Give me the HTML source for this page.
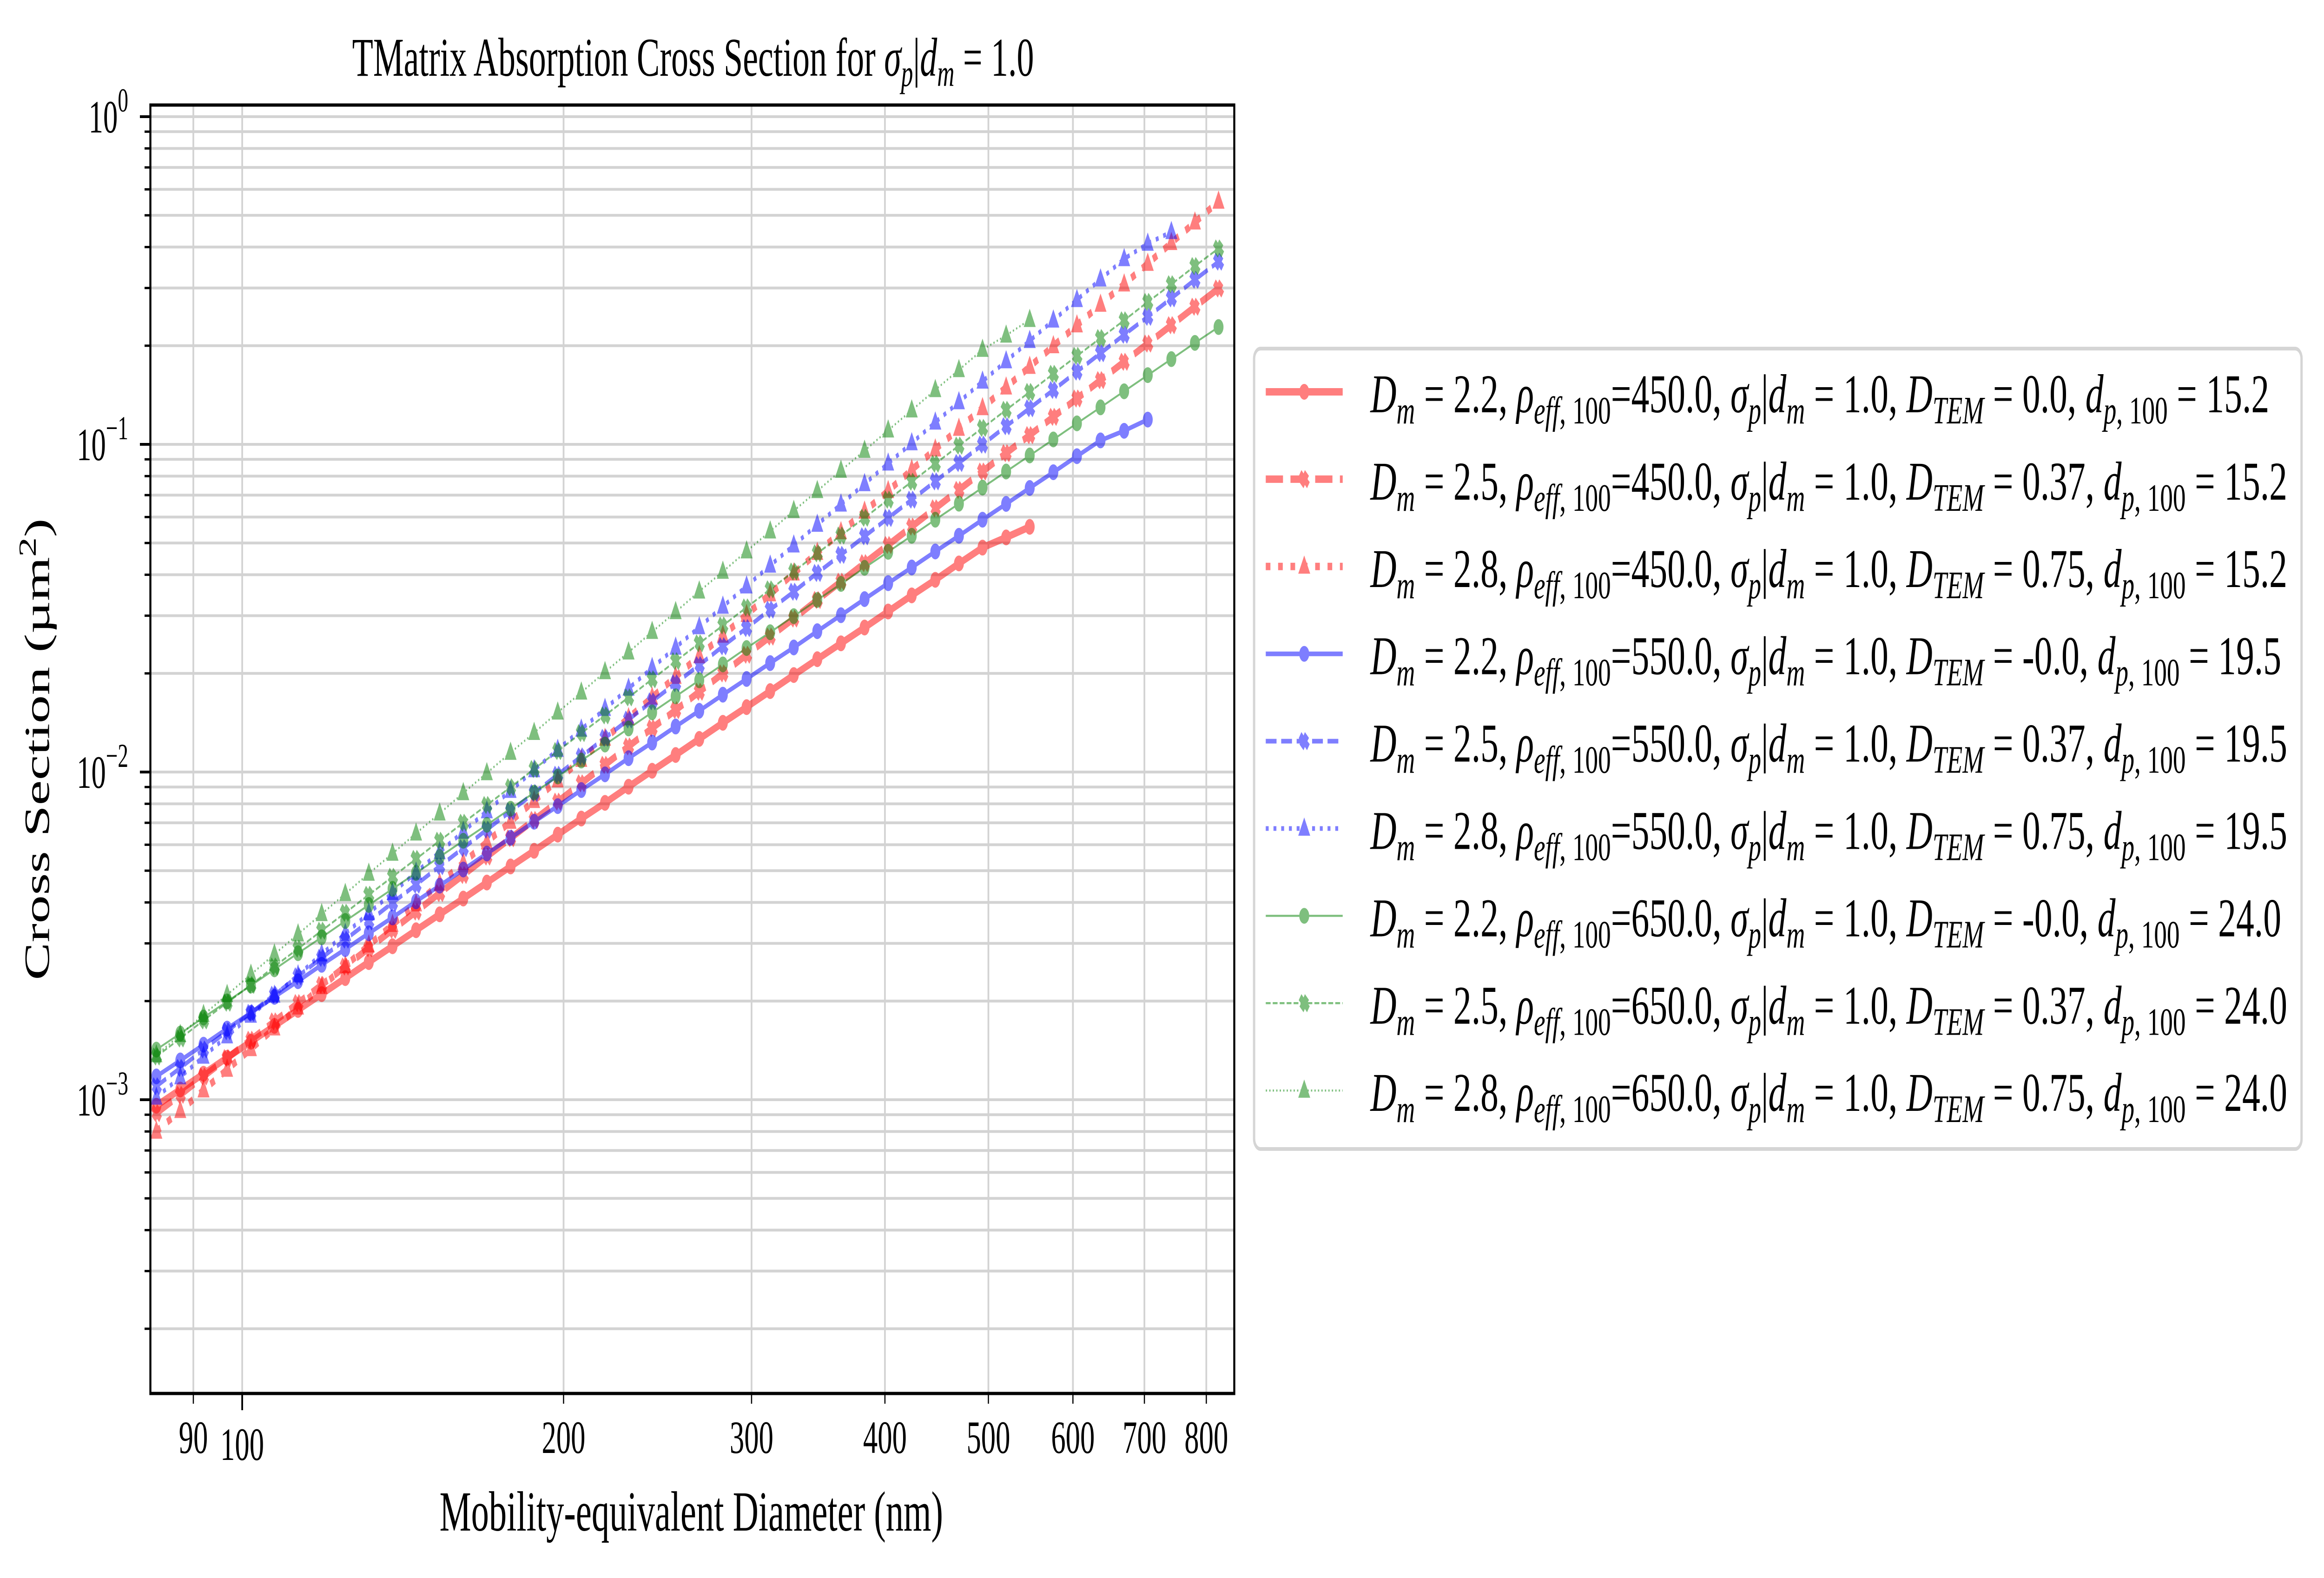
<!DOCTYPE html>
<html><head><meta charset="utf-8"><style>
html,body{margin:0;padding:0;background:#fff;width:100%;height:100%;overflow:hidden;}
svg{display:block;font-family:"Liberation Serif","DejaVu Serif",serif;width:100vw;height:100vh;}
</style></head>
<body>
<svg id="chart" viewBox="0 0 7974 3395" preserveAspectRatio="none" xmlns="http://www.w3.org/2000/svg">
  <rect x="0" y="0" width="7974" height="3395" fill="#fff"/>
  <g id="grid"></g>
  <g id="series"></g>
  <rect x="516" y="226" width="3719" height="2772" fill="none" stroke="#000" stroke-width="7"/>
  <g id="ticks"></g>
  <text x="2378" y="163" font-size="118" text-anchor="middle">TMatrix Absorption Cross Section for <tspan font-style="italic">σ</tspan><tspan font-style="italic" font-size="82" dy="22">p</tspan><tspan dy="-22">|</tspan><tspan font-style="italic">d</tspan><tspan font-style="italic" font-size="82" dy="22">m</tspan><tspan dy="-22"> = 1.0</tspan></text>
  <text x="2372" y="3293" font-size="122" text-anchor="middle">Mobility-equivalent Diameter (nm)</text>
  <text transform="translate(168,1612) rotate(-90)" x="0" y="0" font-size="122" text-anchor="middle">Cross Section (µm<tspan font-size="85" dy="-45">2</tspan><tspan dy="45">)</tspan></text>
  <g id="legend">
    <rect x="4303" y="750" width="3594" height="1722" rx="22" fill="#fff" stroke="#d5d5d5" stroke-width="8"/>
  </g>
</svg>
<script>
const diameters = [83.1,87.5,92.0,96.8,101.9,107.2,112.8,118.7,124.9,131.4,138.3,145.5,153.1,161.1,169.5,178.4,187.7,197.5,207.8,218.7,230.1,242.1,254.7,268.0,282.0,296.8,312.3,328.6,345.7,363.8,382.8,402.8,423.8,445.9,469.2,493.7,519.5,546.6,575.2,605.2,636.8,670.1,705.1,741.9,780.6,821.4];
const csRedSolid = [9.59e-4,1.074e-3,1.200e-3,1.343e-3,1.503e-3,1.680e-3,1.879e-3,2.10e-3,2.35e-3,2.63e-3,2.94e-3,3.29e-3,3.68e-3,4.11e-3,4.60e-3,5.15e-3,5.75e-3,6.44e-3,7.21e-3,8.05e-3,9.02e-3,1.009e-2,1.127e-2,1.262e-2,1.413e-2,1.578e-2,1.766e-2,1.977e-2,2.21e-2,2.47e-2,2.76e-2,3.09e-2,3.46e-2,3.86e-2,4.33e-2,4.84e-2,5.2e-2,5.6e-2];
const csRedDashed = [9.10e-4,1.035e-3,1.178e-3,1.340e-3,1.524e-3,1.734e-3,1.972e-3,2.24e-3,2.55e-3,2.90e-3,3.30e-3,3.75e-3,4.27e-3,4.85e-3,5.52e-3,6.28e-3,7.14e-3,8.12e-3,9.24e-3,1.052e-2,1.197e-2,1.361e-2,1.545e-2,1.758e-2,2.00e-2,2.28e-2,2.59e-2,2.94e-2,3.35e-2,3.81e-2,4.34e-2,4.93e-2,5.61e-2,6.38e-2,7.26e-2,8.26e-2,9.40e-2,1.067e-1,1.213e-1,1.380e-1,1.570e-1,1.786e-1,2.03e-1,2.31e-1,2.63e-1,2.99e-1];
const csRedDotted = [8.00e-4,9.25e-4,1.069e-3,1.236e-3,1.429e-3,1.652e-3,1.914e-3,2.21e-3,2.56e-3,2.96e-3,3.42e-3,3.95e-3,4.57e-3,5.28e-3,6.11e-3,7.06e-3,8.17e-3,9.44e-3,1.091e-2,1.265e-2,1.462e-2,1.690e-2,1.954e-2,2.26e-2,2.61e-2,3.02e-2,3.49e-2,4.04e-2,4.67e-2,5.40e-2,6.24e-2,7.21e-2,8.36e-2,9.66e-2,1.117e-1,1.291e-1,1.493e-1,1.726e-1,1.995e-1,2.31e-1,2.67e-1,3.08e-1,3.56e-1,4.12e-1,4.76e-1,5.51e-1];
const csBlueSolid = [1.178e-3,1.318e-3,1.472e-3,1.648e-3,1.841e-3,2.06e-3,2.30e-3,2.58e-3,2.88e-3,3.22e-3,3.60e-3,4.03e-3,4.50e-3,5.04e-3,5.64e-3,6.30e-3,7.05e-3,7.87e-3,8.81e-3,9.84e-3,1.102e-2,1.230e-2,1.377e-2,1.538e-2,1.722e-2,1.923e-2,2.15e-2,2.40e-2,2.69e-2,3.01e-2,3.37e-2,3.77e-2,4.21e-2,4.71e-2,5.26e-2,5.89e-2,6.58e-2,7.36e-2,8.22e-2,9.20e-2,1.028e-1,1.10e-1,1.19e-1];
const csBlueDashed = [1.099e-3,1.250e-3,1.423e-3,1.619e-3,1.841e-3,2.09e-3,2.38e-3,2.71e-3,3.08e-3,3.50e-3,3.99e-3,4.53e-3,5.16e-3,5.86e-3,6.67e-3,7.59e-3,8.63e-3,9.81e-3,1.116e-2,1.271e-2,1.446e-2,1.644e-2,1.866e-2,2.12e-2,2.42e-2,2.75e-2,3.13e-2,3.55e-2,4.05e-2,4.60e-2,5.24e-2,5.96e-2,6.78e-2,7.71e-2,8.77e-2,9.98e-2,1.136e-1,1.289e-1,1.465e-1,1.667e-1,1.897e-1,2.16e-1,2.45e-1,2.79e-1,3.18e-1,3.61e-1];
const csBlueDotted = [1.016e-3,1.172e-3,1.355e-3,1.563e-3,1.807e-3,2.08e-3,2.40e-3,2.78e-3,3.21e-3,3.71e-3,4.28e-3,4.94e-3,5.70e-3,6.58e-3,7.60e-3,8.77e-3,1.014e-2,1.170e-2,1.349e-2,1.560e-2,1.799e-2,2.08e-2,2.40e-2,2.77e-2,3.20e-2,3.69e-2,4.27e-2,4.92e-2,5.69e-2,6.56e-2,7.57e-2,8.75e-2,1.009e-1,1.167e-1,1.346e-1,1.556e-1,1.795e-1,2.07e-1,2.39e-1,2.76e-1,3.19e-1,3.68e-1,4.10e-1,4.45e-1];
const csGreenSolid = [1.422e-3,1.592e-3,1.782e-3,1.995e-3,2.23e-3,2.50e-3,2.80e-3,3.13e-3,3.51e-3,3.93e-3,4.40e-3,4.92e-3,5.51e-3,6.17e-3,6.90e-3,7.73e-3,8.65e-3,9.69e-3,1.084e-2,1.213e-2,1.358e-2,1.521e-2,1.702e-2,1.905e-2,2.13e-2,2.39e-2,2.67e-2,2.99e-2,3.35e-2,3.75e-2,4.20e-2,4.70e-2,5.26e-2,5.89e-2,6.59e-2,7.38e-2,8.26e-2,9.25e-2,1.035e-1,1.159e-1,1.297e-1,1.452e-1,1.626e-1,1.820e-1,2.04e-1,2.28e-1];
const csGreenDashed = [1.355e-3,1.538e-3,1.746e-3,1.977e-3,2.24e-3,2.55e-3,2.89e-3,3.28e-3,3.72e-3,4.22e-3,4.79e-3,5.43e-3,6.17e-3,7.00e-3,7.93e-3,8.99e-3,1.021e-2,1.159e-2,1.315e-2,1.489e-2,1.690e-2,1.919e-2,2.18e-2,2.47e-2,2.80e-2,3.18e-2,3.61e-2,4.09e-2,4.65e-2,5.27e-2,5.97e-2,6.78e-2,7.69e-2,8.73e-2,9.91e-2,1.122e-1,1.274e-1,1.445e-1,1.641e-1,1.862e-1,2.11e-1,2.39e-1,2.72e-1,3.08e-1,3.50e-1,3.96e-1];
const csGreenDotted = [1.368e-3,1.578e-3,1.816e-3,2.09e-3,2.41e-3,2.78e-3,3.20e-3,3.69e-3,4.25e-3,4.90e-3,5.64e-3,6.50e-3,7.48e-3,8.63e-3,9.93e-3,1.146e-2,1.318e-2,1.521e-2,1.750e-2,2.02e-2,2.32e-2,2.68e-2,3.08e-2,3.56e-2,4.09e-2,4.72e-2,5.43e-2,6.27e-2,7.21e-2,8.32e-2,9.57e-2,1.104e-1,1.271e-1,1.466e-1,1.687e-1,1.945e-1,2.15e-1,2.40e-1];
const seriesDm = ["2.2","2.5","2.8","2.2","2.5","2.8","2.2","2.5","2.8"];
const seriesRho = ["450.0","450.0","450.0","550.0","550.0","550.0","650.0","650.0","650.0"];
const seriesDtem = ["0.0","0.37","0.75","-0.0","0.37","0.75","-0.0","0.37","0.75"];
const seriesDp = ["15.2","15.2","15.2","19.5","19.5","19.5","24.0","24.0","24.0"];
const xTickValues = [90,100,200,300,400,500,600,700,800];
const xTickLabels = ["90","100","200","300","400","500","600","700","800"];
const yMajorExps = [0,-1,-2,-3];

const NS = "http://www.w3.org/2000/svg";
const PL = 516, PR = 4235, PT = 226, PB = 2998;
const X100 = 831, XDEC = 3663, YM3 = 2366, YDEC = 705;
function xs(v){ return X100 + (Math.log10(v) - 2) * XDEC; }
function ys(v){ return YM3 - (Math.log10(v) + 3) * YDEC; }
function mk(tag, attrs, parent){ const e = document.createElementNS(NS, tag); for (const k in attrs) e.setAttribute(k, attrs[k]); parent.appendChild(e); return e; }

const grid = document.getElementById('grid');
const ticks = document.getElementById('ticks');
for (let e = -4; e <= 0; e++) {
  for (let m = 1; m <= 9; m++) {
    const v = m * Math.pow(10, e);
    const y = ys(v);
    if (y < PT || y > PB) continue;
    const gl = mk('line', {x1: PL, x2: PR, y1: y, y2: y, stroke: '#d3d3d3', 'stroke-width': 6}, grid);
    
    
    const len = m === 1 ? 36 : 20;
    const tl = mk('line', {x1: PL - len, x2: PL, y1: y, y2: y, stroke: '#000', 'stroke-width': m === 1 ? 6 : 5}, ticks);
    
    
  }
}
yMajorExps.forEach(function(e){
  const y = ys(Math.pow(10, e));
  const t = mk('text', {x: 440, y: y + 34, 'font-size': 100, 'text-anchor': 'end'}, ticks);
  
  
  t.appendChild(document.createTextNode('10'));
  const sup = mk('tspan', {'font-size': 72, dy: -45}, t);
  sup.textContent = e === 0 ? '0' : '\u2212' + (-e);
});
xTickValues.forEach(function(v, i){
  const x = xs(v);
  const gl = mk('line', {x1: x, x2: x, y1: PT, y2: PB, stroke: '#d3d3d3', 'stroke-width': 6}, grid);
  
  
  const major = v === 100;
  const tl = mk('line', {x1: x, x2: x, y1: PB, y2: PB + (major ? 36 : 22), stroke: '#000', 'stroke-width': major ? 6 : 4}, ticks);
  
  
  const t = mk('text', {x: x, y: major ? 3141 : 3126, 'font-size': 100, 'text-anchor': 'middle'}, ticks);
  
  
  t.textContent = xTickLabels[i];
});

const seriesValues = [csRedSolid, csRedDashed, csRedDotted, csBlueSolid, csBlueDashed, csBlueDotted, csGreenSolid, csGreenDashed, csGreenDotted];
const colors = ['#ff0000','#ff0000','#ff0000','#0000ff','#0000ff','#0000ff','#008000','#008000','#008000'];
const widths = [16,16,16,10,10,10,4.5,4.5,4.5];
const styles = ['solid','dashed','dotted','solid','dashed','dotted','solid','dashed','dotted'];
const markers = ['o','X','^','o','X','^','o','X','^'];
function dash(style, w){ if (style === 'dashed') return (3.7*w)+','+(1.6*w); if (style === 'dotted') return (1*w)+','+(1.65*w); return 'none'; }
function drawMarker(kind, cx, cy, color, parent){
  const r = 15;
  let el;
  if (kind === 'o') {
    el = mk('circle', {cx: cx, cy: cy, r: r, fill: color, stroke: color, 'stroke-width': 4}, parent);
  } else if (kind === '^') {
    el = mk('polygon', {points: cx+','+(cy-r*1.3)+' '+(cx-r*1.15)+','+(cy+r*0.9)+' '+(cx+r*1.15)+','+(cy+r*0.9), fill: color, stroke: color, 'stroke-width': 4}, parent);
  } else {
    const a = r*0.45, b = r*1.1;
    const pts = [[-a,-b],[0,-b+a*1.1],[a,-b],[b,-a],[b-a*1.1,0],[b,a],[a,b],[0,b-a*1.1],[-a,b],[-b,a],[-b+a*1.1,0],[-b,-a]];
    el = mk('polygon', {points: pts.map(function(p){return (cx+p[0]*0.9+p[1]*0.2)+','+(cy+p[1])}).join(' '), fill: color, stroke: color, 'stroke-width': 4}, parent);
  }
  return el;
}
const sg = document.getElementById('series');
const clip = mk('clipPath', {id: 'plotclip'}, sg);
mk('rect', {x: PL, y: PT, width: PR - PL, height: PB - PT}, clip);
seriesValues.forEach(function(vals, s){
  const g = mk('g', {'clip-path': 'url(#plotclip)', opacity: 0.5}, sg);
  
  
  const pts = vals.map(function(v, i){ return xs(diameters[i]).toFixed(1) + ',' + ys(v).toFixed(1); });
  const line = mk('polyline', {points: pts.join(' '), fill: 'none', stroke: colors[s], 'stroke-width': widths[s], 'stroke-dasharray': dash(styles[s], widths[s])}, g);
  
  
  vals.forEach(function(v, i){
    const m = drawMarker(markers[s], xs(diameters[i]), ys(v), colors[s], g);
    
    
  });
});

const lg = document.getElementById('legend');
function addSpan(t, txt, attrs){ const sp = mk('tspan', attrs || {}, t); sp.textContent = txt; return sp; }
seriesValues.forEach(function(vals, s){
  const cy = 843 + s * 187.9;
  const g = mk('g', {}, lg);
  
  
  const hg = mk('g', {opacity: 0.5}, g);
  const hl = mk('line', {x1: 4343, x2: 4607, y1: cy, y2: cy, stroke: colors[s], 'stroke-width': widths[s], 'stroke-dasharray': dash(styles[s], widths[s])}, hg);
  
  
  drawMarker(markers[s], 4475, cy, colors[s], hg);
  const t = mk('text', {x: 4702, y: cy + 44, 'font-size': 118}, g);
  
  
  const sub = {'font-size': 84, dy: 24};
  const up = {dy: -24};
  addSpan(t, 'D', {'font-style': 'italic'});
  addSpan(t, 'm', Object.assign({'font-style': 'italic'}, sub));
  addSpan(t, ' = ' + seriesDm[s] + ', ', up);
  addSpan(t, 'ρ', {'font-style': 'italic'});
  addSpan(t, 'eff', Object.assign({'font-style': 'italic'}, sub));
  addSpan(t, ', 100', {'font-size': 84});
  addSpan(t, '=' + seriesRho[s] + ', ', up);
  addSpan(t, 'σ', {'font-style': 'italic'});
  addSpan(t, 'p', Object.assign({'font-style': 'italic'}, sub));
  addSpan(t, '|', up);
  addSpan(t, 'd', {'font-style': 'italic'});
  addSpan(t, 'm', Object.assign({'font-style': 'italic'}, sub));
  addSpan(t, ' = 1.0, ', up);
  addSpan(t, 'D', {'font-style': 'italic'});
  addSpan(t, 'TEM', Object.assign({'font-style': 'italic'}, sub));
  addSpan(t, ' = ' + seriesDtem[s] + ', ', up);
  addSpan(t, 'd', {'font-style': 'italic'});
  addSpan(t, 'p', Object.assign({'font-style': 'italic'}, sub));
  addSpan(t, ', 100', {'font-size': 84});
  addSpan(t, ' = ' + seriesDp[s], up);
});
(function(){
  const labels = lg.querySelectorAll('text');
  const ref = labels[1].getComputedTextLength();
  const k = 3146 / ref;
  labels.forEach(function(t){
    const L = t.getComputedTextLength();
    t.setAttribute('textLength', (L * k).toFixed(1));
    t.setAttribute('lengthAdjust', 'spacingAndGlyphs');
  });
})();
</script>
</body></html>
